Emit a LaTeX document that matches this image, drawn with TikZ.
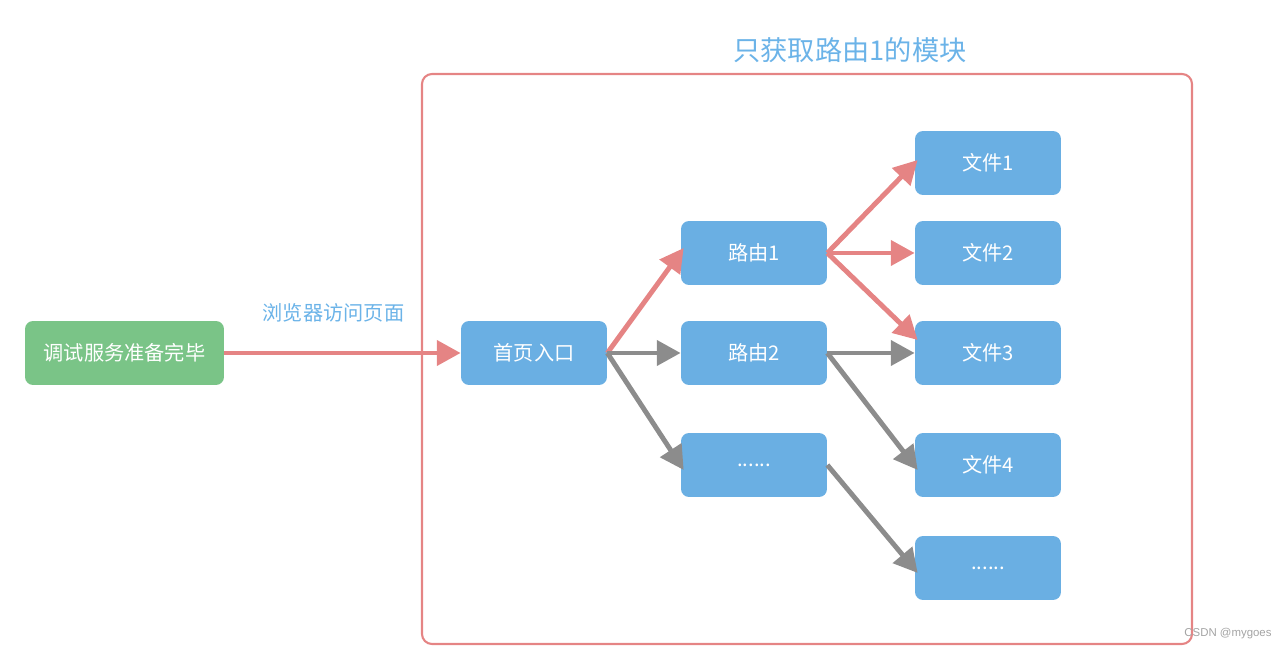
\documentclass[tikz,border=0pt]{standalone}
\usepackage{fontspec}
\setmainfont{Liberation Sans}
\newfontfamily\cjk{Noto Sans CJK SC}
\usetikzlibrary{arrows.meta}
\definecolor{boxblue}{HTML}{6AAFE3}
\definecolor{boxgreen}{HTML}{7AC487}
\definecolor{linkred}{HTML}{E58484}
\definecolor{linkgrey}{HTML}{8C8C8C}
\definecolor{textblue}{HTML}{6BB3E8}

\begin{document}
\begin{tikzpicture}[x=0.02cm,y=-0.02cm]
  \tikzset{page box/.style={fill=#1,rounded corners=0.16cm,minimum width=2.92cm,minimum height=1.28cm,
      text=white,font=\cjk\fontsize{11.5}{14}\selectfont},
    flow/.style={line width=2.8pt,draw=#1,-{Triangle[length=13.5pt,width=14pt]}}}
  \useasboundingbox (0,0) rectangle (1285,651);

  % module frame and its title
  \draw[linkred,line width=1.2pt,rounded corners=0.2cm] (422,74) rectangle (1192,644);
  \node[text=textblue,font=\cjk\fontsize{15.5}{18}\selectfont] (title) at (850,50) {只获取路由1的模块};

  \node [page box=boxgreen,minimum width=3.98cm] (ready) at (124.5,353) {调试服务准备完毕};
  \node [page box=boxblue] (home) at (534,353) {首页入口};
  \node [page box=boxblue] (route1) at (754,253) {路由1};
  \node [page box=boxblue] (route2) at (754,353) {路由2};
  \node [page box=boxblue] (routex) at (754,465) {......};
  \node [page box=boxblue] (file1) at (988,163) {文件1};
  \node [page box=boxblue] (file2) at (988,253) {文件2};
  \node [page box=boxblue] (file3) at (988,353) {文件3};
  \node [page box=boxblue] (file4) at (988,465) {文件4};
  \node [page box=boxblue] (filex) at (988,568) {......};

  \draw[flow=linkred] (ready) -- (home) node[midway,above=0.45cm,xshift=-0.18cm,text=textblue,font=\cjk\fontsize{11.5}{14}\selectfont] (visit) {浏览器访问页面};
  \draw[flow=linkred] (home.east) -- ([xshift=0.06cm,yshift=0.1cm]route1.west);
  \draw[flow=linkgrey] (home.east) -- (route2.west);
  \draw[flow=linkgrey] (home.east) -- ([xshift=0.06cm,yshift=-0.1cm]routex.west);
  \draw[flow=linkred] (route1.east) -- ([xshift=0.06cm,yshift=0.06cm]file1.west);
  \draw[flow=linkred] (route1.east) -- (file2.west);
  \draw[flow=linkred] (route1.east) -- ([xshift=0.06cm,yshift=0.26cm]file3.west);
  \draw[flow=linkgrey] (route2.east) -- (file3.west);
  \draw[flow=linkgrey] (route2.east) -- ([xshift=0.06cm,yshift=-0.1cm]file4.west);
  \draw[flow=linkgrey] (routex.east) -- ([xshift=0.06cm,yshift=-0.1cm]filex.west);

  \node[text=linkgrey!80,font=\fontsize{6.5}{8}\selectfont] (mark) at (1228,634) {CSDN @mygoes};
\end{tikzpicture}
\end{document}
